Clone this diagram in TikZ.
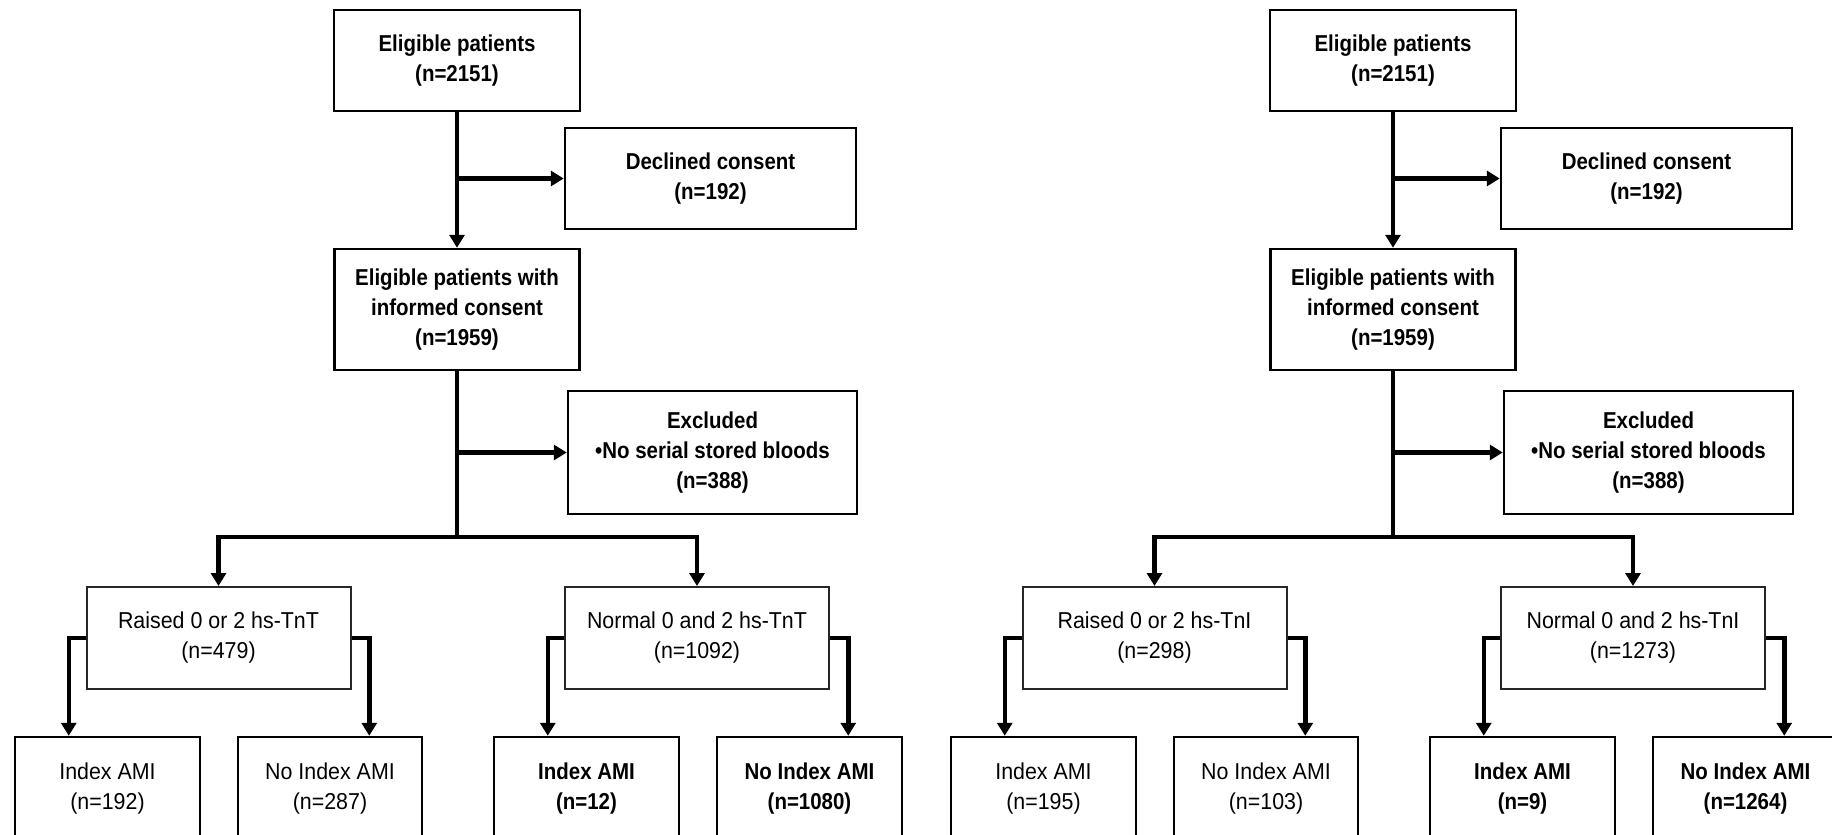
\documentclass[tikz,border=0pt]{standalone}
\usepackage{fontspec}
\setmainfont{Liberation Sans}
\newfontfamily\boxboldfont{Liberation Sans}[FakeStretch=0.89]
\newfontfamily\boxplainfont{Liberation Sans}[FakeStretch=0.93]
\usetikzlibrary{arrows.meta,calc}
\tikzset{
  boldbox/.style={draw=black, line width=2.5pt, fill=white, align=center, inner sep=0pt,
    font=\boxboldfont\fontsize{23}{30}\selectfont\bfseries},
  plainbox/.style={draw=black!85, line width=2pt, fill=white, align=center, inner sep=0pt,
    font=\boxplainfont\fontsize{23}{30}\selectfont},
  conn/.style={line width=4.5pt, line join=miter},
  arr/.style={conn, -{Triangle[length=13pt,width=15pt]}},
}
% #1 prefix, #2 x offset, #3 marker, #4 raised n, #5 normal n, #6-#9 bottom n
\newcommand\fchalf[9]{%
 \begin{scope}[xshift=#2]
  \node[boldbox, minimum width=246pt, minimum height=101pt] (#1A) at (457,60.5) {Eligible patients\\(n=2151)};
  \node[boldbox, minimum width=291pt, minimum height=101pt] (#1D) at (710.5,178.5) {Declined consent\\(n=192)};
  \node[boldbox, minimum width=245pt, minimum height=121pt] (#1B) at (457,309.5) {Eligible patients with\\informed consent\\(n=1959)};
  \node[boldbox, minimum width=289pt, minimum height=123pt] (#1E) at (712.5,452.5) {Excluded\\•No serial stored bloods\\(n=388)};
  \node[plainbox, minimum width=264pt, minimum height=102pt] (#1R) at (218.5,638) {Raised 0 or 2 hs-#3\\(n=#4)};
  \node[plainbox, minimum width=264pt, minimum height=102pt] (#1N) at (697,638) {Normal 0 and 2 hs-#3\\(n=#5)};
  \node[plainbox, line width=2.5pt, draw=black, minimum width=185pt, minimum height=103pt] (#1L1) at (107.5,788.5) {Index AMI\\(n=#6)};
  \node[plainbox, line width=2.5pt, draw=black, minimum width=184pt, minimum height=103pt] (#1L2) at (330,788.5) {No Index AMI\\(n=#7)};
  \node[boldbox, minimum width=185pt, minimum height=103pt] (#1L3) at (586.5,788.5) {Index AMI\\(n=#8)};
  \node[boldbox, minimum width=185pt, minimum height=103pt] (#1L4) at (809.5,788.5) {No Index AMI\\(n=#9)};
  \coordinate (#1J) at (457,537);
  \draw[arr] (#1A) -- (#1B);
  \draw[arr] (#1A.south |- #1D.west) -- (#1D.west);
  \draw[conn] (#1B.south) -- (#1J);
  \draw[arr] (#1B.south |- #1E.west) -- (#1E.west);
  \draw[arr] (#1J) -| (#1R.north);
  \draw[arr] (#1J) -| (#1N.north);
  \draw[arr] (#1R.west) -| ([xshift=55pt]#1L1.north west);
  \draw[arr] (#1R.east) -| ([xshift=-54pt]#1L2.north east);
  \draw[arr] (#1N.west) -| ([xshift=55pt]#1L3.north west);
  \draw[arr] (#1N.east) -| ([xshift=-55pt]#1L4.north east);
 \end{scope}}
\begin{document}
\begin{tikzpicture}[x=1pt,y=-1pt]
  \clip (0,0) rectangle (1832,835);
  \fill[white] (0,0) rectangle (1832,835);
  \fchalf{l}{0pt}{TnT}{479}{1092}{192}{287}{12}{1080}
  \fchalf{r}{936pt}{TnI}{298}{1273}{195}{103}{9}{1264}
\end{tikzpicture}
\end{document}
